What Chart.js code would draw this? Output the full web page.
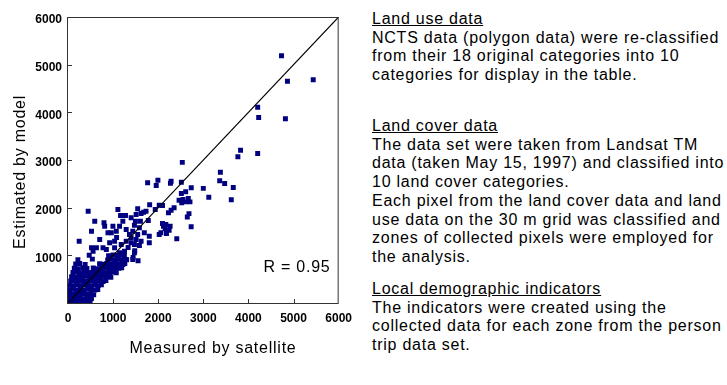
<!DOCTYPE html>
<html lang="en">
<head>
<meta charset="UTF-8">
<title>Measured vs estimated</title>
<script src="https://cdn.jsdelivr.net/npm/chart.js"></script>
<style>
  body { margin: 0; background: #fff; width: 727px; height: 385px; position: relative; overflow: hidden;
         font-family: 'Liberation Sans', Arial, sans-serif; color: #000; }
  #plotBox { position: absolute; left: 0; top: 0; width: 360px; height: 385px; }
  .txt { position: absolute; font-size: 16px; letter-spacing: 0.75px; white-space: nowrap; line-height: 18px; }
  .notes { left: 372px; line-height: 18.7px; }
</style>
</head>
<body>
<div id="plotBox"><canvas id="scatterCanvas" width="360" height="385"></canvas></div>

<div class="txt" style="left:-80px; top:163px; width:200px; text-align:center; transform:rotate(-90deg);">Estimated by model</div>
<div class="txt" style="left:113px; top:339px; width:200px; text-align:center;">Measured by satellite</div>
<div class="txt" style="left:247px; top:258px; width:100px; text-align:center;">R = 0.95</div>

<div class="txt notes" style="top:10px;">
<u>Land use data</u><br>
NCTS data (polygon data) were re-classified<br>
from their 18 original categories into 10<br>
categories for display in the table.
</div>
<div class="txt notes" style="top:117px;">
<u>Land cover data</u><br>
The data set were taken from Landsat TM<br>
data (taken May 15, 1997) and classified into<br>
10 land cover categories.<br>
Each pixel from the land cover data and land<br>
use data on the 30 m grid was classified and<br>
zones of collected pixels were employed for<br>
the analysis.
</div>
<div class="txt notes" style="top:280px;">
<u>Local demographic indicators</u><br>
The indicators were created using the<br>
collected data for each zone from the person<br>
trip data set.
</div>

<script>
// scattered zones (measured by satellite, estimated by model)
const measuredOut = [4733, 4865, 5436, 4205, 4227, 4820, 3825, 3766, 4205, 2534,
  3378, 3363, 3473, 3664, 3000, 2732, 2609, 2513, 2513, 2286,
  2271, 1993, 1956, 1765, 3121, 3620, 2462, 2550, 2667, 2609,
  2704, 2521, 2682, 2645, 2730, 2411, 2352, 2286, 2227, 2095,
  2022, 1810, 1934, 1780, 1677, 1545, 1510, 1620, 1400, 1495,
  1605, 1473, 1583, 1436, 1545, 1400, 1510, 1620, 1473, 1583,
  1802, 2095, 2117, 2169, 2264, 2059, 2183, 2154, 2242, 1730,
  1106, 1165, 1275, 1216, 447, 593, 798, 521, 248, 703,
  813, 996, 960, 886, 1070, 1143, 1290, 1363, 1692, 1033,
  923, 1180, 1290, 1400, 630, 521, 776, 2022, 1802, 1436,
  1216, 1033, 1253, 556, 850, 1033, 1143, 1473, 1290, 1077,
  1333, 1443, 1480, 1553, 1223];
const estimatedOut = [5186, 4653, 4683, 4108, 3892, 3864, 3206, 3067, 3137, 2950,
  2744, 2564, 2507, 2423, 2405, 2417, 2333, 2297, 2534, 2555,
  2513, 2576, 2465, 2521, 2220, 2165, 2157, 2171, 2192, 2122,
  2122, 2101, 1875, 1805, 1599, 1347, 1997, 1945, 1892, 2045,
  2050, 2062, 1962, 1731, 1905, 1976, 1857, 1878, 1787, 1716,
  1716, 1632, 1578, 1506, 1437, 1368, 1332, 1297, 1227, 1206,
  1402, 1668, 1611, 1647, 1611, 1472, 1458, 1557, 1528, 1926,
  1962, 1836, 1836, 1716, 1926, 1716, 1682, 1506, 1297, 1332,
  1611, 1611, 1472, 1472, 1506, 1611, 1542, 1437, 1472, 1297,
  1263, 1227, 1297, 1263, 1158, 1158, 1158, 1437, 1263, 913,
  808, 738, 1087, 1087, 1122, 1158, 1053, 1053, 913, 1375,
  1165, 955, 1095, 885, 1025];

// dense group of small zones near the origin
const measuredCore = [
  20, 90, 170, 250, 330, 410, 490,
  30, 110, 190, 270, 350, 430, 520,
  20, 100, 180, 260, 340, 420, 500, 570,
  40, 120, 200, 280, 360, 440, 520, 600, 660,
  30, 110, 190, 270, 350, 430, 510, 590, 670, 740,
  60, 140, 220, 300, 380, 460, 540, 620, 700, 780, 840,
  80, 160, 240, 320, 400, 480, 560, 640, 720, 800, 880, 950,
  110, 190, 280, 360, 450, 530, 610, 690, 770, 850, 930, 1010, 1070,
  140, 230, 330, 420, 560, 650, 730, 810, 890, 970, 1050, 1130, 1190,
  170, 260, 380, 700, 780, 860, 940, 1020, 1100, 1180, 1260,
  220, 540, 880, 960, 1040, 1120, 1200, 1300,
  470, 900, 1000, 1080, 1160, 1250];
const estimatedCore = [
  30, 20, 40, 25, 35, 20, 30,
  100, 110, 95, 105, 90, 110, 95,
  190, 180, 200, 185, 195, 180, 190, 175,
  280, 290, 270, 285, 275, 290, 280, 270, 285,
  370, 360, 375, 365, 380, 370, 360, 375, 365, 380,
  460, 470, 455, 465, 450, 460, 470, 455, 465, 450, 470,
  550, 540, 555, 545, 560, 550, 540, 555, 545, 560, 550, 540,
  640, 650, 635, 645, 630, 640, 650, 635, 645, 630, 640, 650, 635,
  730, 720, 740, 725, 735, 720, 730, 740, 725, 735, 720, 730, 740,
  820, 830, 810, 825, 815, 830, 820, 810, 825, 815, 830,
  910, 920, 905, 915, 900, 920, 910, 905,
  1000, 990, 1010, 995, 1005, 990];

const axisTicks = [0, 1000, 2000, 3000, 4000, 5000, 6000];
const unityLine = [0, 6000];

const points = measuredOut.concat(measuredCore).map((m, i) => ({
  x: m,
  y: estimatedOut.concat(estimatedCore)[i]
}));

// box round the plot and the short inward tick marks
const frameAndTicks = {
  id: 'frameAndTicks',
  afterDatasetsDraw(chart) {
    const { ctx, chartArea: a, scales } = chart;
    ctx.save();
    ctx.strokeStyle = '#333';
    ctx.lineWidth = 1;
    ctx.strokeRect(a.left - 0.5, a.top + 0.5, a.right - a.left, a.bottom - a.top);
    ctx.beginPath();
    axisTicks.slice(1, -1).forEach(v => {
      const px = Math.round(scales.x.getPixelForValue(v)) + 0.5;
      ctx.moveTo(px, a.bottom);
      ctx.lineTo(px, a.bottom - 4);
      const py = Math.round(scales.y.getPixelForValue(v)) + 0.5;
      ctx.moveTo(a.left, py);
      ctx.lineTo(a.left + 4, py);
    });
    ctx.stroke();
    ctx.restore();
  }
};

const tickFont = { family: "'Liberation Sans', Arial, sans-serif", size: 12, weight: 'bold' };

new Chart(document.getElementById('scatterCanvas').getContext('2d'), {
  type: 'scatter',
  data: {
    datasets: [{
      type: 'line',
      data: unityLine.map(v => ({ x: v, y: v })),
      borderColor: '#000',
      borderWidth: 1.2,
      pointRadius: 0,
      order: 0
    }, {
      data: points,
      backgroundColor: '#000080',
      pointStyle: 'rect',
      pointRadius: 3.5,
      pointBorderWidth: 0,
      order: 1
    }]
  },
  options: {
    responsive: false,
    animation: false,
    layout: { padding: { top: 17, right: 19, bottom: 0, left: 0 } },
    plugins: { legend: { display: false }, tooltip: { enabled: false } },
    scales: {
      x: {
        type: 'linear', min: 0, max: 6000,
        afterBuildTicks: s => { s.ticks = axisTicks.map(v => ({ value: v })); },
        afterFit: s => { s.height = 82; },
        grid: { display: false, drawTicks: false },
        border: { display: false },
        ticks: { padding: 8, color: '#000', font: tickFont, maxRotation: 0,
                 callback: v => String(v) }
      },
      y: {
        type: 'linear', min: 0, max: 6000,
        afterBuildTicks: s => { s.ticks = axisTicks.map(v => ({ value: v })); },
        afterFit: s => { s.width = 68; },
        grid: { display: false, drawTicks: false },
        border: { display: false },
        ticks: { padding: 6, color: '#000', font: tickFont, labelOffset: 3,
                 callback: v => v === 0 ? '' : String(v) }
      }
    }
  },
  plugins: [frameAndTicks]
});
</script>
</body>
</html>
